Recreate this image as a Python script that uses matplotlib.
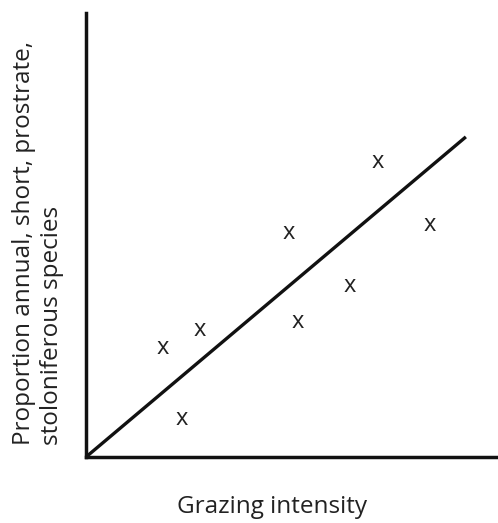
import matplotlib
matplotlib.use("Agg")
from matplotlib import pyplot as plt

# grazing intensity vs proportion (arbitrary units)
grazing = [18.7, 23.3, 27.7, 49.3, 51.5, 64.1, 70.9, 83.5]
proportion = [24.5, 8.6, 28.6, 50.5, 30.4, 38.5, 66.4, 52.3]
trend_x = [0, 92.2]
trend_y = [0, 72.1]

plt.rcParams['font.family'] = ['Open Sans', 'DejaVu Sans']

fig = plt.figure(figsize=(4.98, 5.23), dpi=100)
ax = fig.add_axes([86 / 498, (523 - 457) / 523, (498 - 86) / 498, (457 - 13) / 523])
ax.set_xlim(0, 100)
ax.set_ylim(0, 100)

ax.plot(trend_x, trend_y, color='#111111', lw=2.4, solid_capstyle='butt', clip_on=False)
for gx, py in zip(grazing, proportion):
    ax.text(gx, py, 'x', ha='center', va='center', fontsize=17, color='#222222')

for s in ['top', 'right']:
    ax.spines[s].set_visible(False)
for s in ['left', 'bottom']:
    ax.spines[s].set_linewidth(2.5)
    ax.spines[s].set_color('#111111')
ax.set_xticks([])
ax.set_yticks([])

fig.text(272 / 498, 1 - 507 / 523, 'Grazing intensity', ha='center', va='center',
         fontsize=17.5, color='#222222')
fig.text(38 / 498, 1 - 445 / 523, 'Proportion annual, short, prostrate,\nstoloniferous species',
         rotation=90, ha='center', va='bottom', multialignment='left',
         fontsize=17.5, color='#222222', linespacing=1.25)

fig.savefig('out.png', dpi=100)
